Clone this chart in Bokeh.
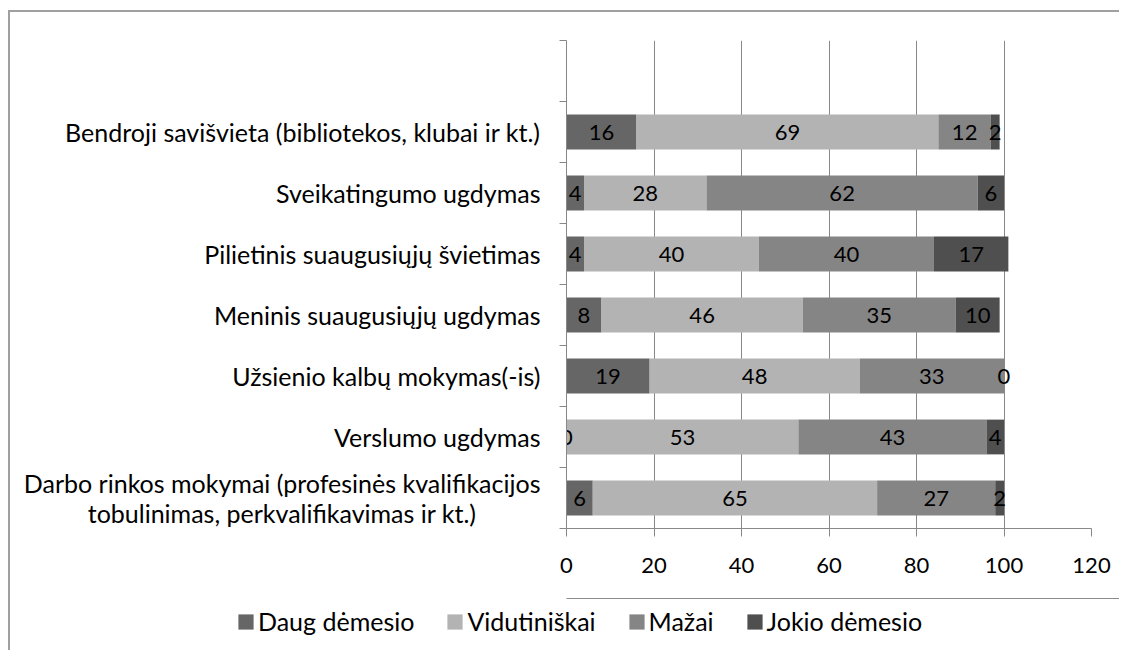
import numpy as np
from bokeh.plotting import figure
from bokeh.layouts import column
from bokeh.models import (FixedTicker, Legend, LegendItem, ColumnDataSource, Range1d)
from bokeh.core.properties import value
from bokeh.embed import file_html
from bokeh.resources import INLINE

# ---- data (bottom to top) ----
categories = [
    "Darbo rinkos mokymai (profesinės kvalifikacijos\ntobulinimas, perkvalifikavimas ir kt.)" + "\u00a0" * 10,
    "Verslumo ugdymas",
    "Užsienio kalbų mokymas(-is)",
    "Meninis suaugusiųjų ugdymas",
    "Pilietinis suaugusiųjų švietimas",
    "Sveikatingumo ugdymas",
    "Bendroji savišvieta (bibliotekos, klubai ir kt.)",
]
series_names = ["Daug dėmesio", "Vidutiniškai", "Mažai", "Jokio dėmesio"]
daug = [6, 0, 19, 8, 4, 4, 16]
vidutiniskai = [65, 53, 48, 46, 40, 28, 69]
mazai = [27, 43, 33, 35, 40, 62, 12]
jokio = [2, 4, 0, 10, 17, 6, 2]
x_ticks = [0, 20, 40, 60, 80, 100, 120]

colors = ["#666666", "#b3b3b3", "#858585", "#4f4f4f"]
FONT = "Lato"

series = [daug, vidutiniskai, mazai, jokio]
n_cat = len(categories)
n_slots = n_cat + 1  # one empty slot on top
ypos = np.arange(n_cat) + 0.5

p = figure(frame_width=525, frame_height=488, output_backend="svg", toolbar_location=None,
           x_range=Range1d(0, 120), y_range=Range1d(0, n_slots),
           min_border_left=556, min_border_right=28, min_border_top=28,
           min_border_bottom=70)
p.outline_line_color = None
p.background_fill_color = "white"
p.border_fill_color = "white"

# legend strip below the chart (its bars lie outside its visible range)
p2 = figure(frame_width=1109, frame_height=52, output_backend="svg", toolbar_location=None,
            x_axis_location=None, y_axis_location=None, min_border=0,
            x_range=Range1d(0, 1), y_range=Range1d(-2, -1))
p2.outline_line_color = None
p2.xgrid.grid_line_color = None
p2.ygrid.grid_line_color = None

left = np.zeros(n_cat)
sources = []
items = []
for name, vals, col in zip(series_names, series, colors):
    vals = np.array(vals, dtype=float)
    right = left + vals
    src = ColumnDataSource(dict(y=ypos, left=left.copy(), right=right.copy(),
                                xm=(left + right) / 2, lab=[str(int(v)) for v in vals]))
    sources.append(src)
    p.hbar(y="y", left="left", right="right", height=0.57, source=src,
           fill_color=col, line_color=None)
    r2 = p2.hbar(y="y", left="left", right="right", height=0.57, source=src,
                 fill_color=col, line_color=None)
    items.append(LegendItem(label=name, renderers=[r2]))
    left = right

for src in sources:
    p.text(x="xm", y="y", text="lab", source=src, text_align="center",
           text_baseline="middle", text_font=value(FONT), text_font_size="22px",
           text_color="#000000")

# x axis
p.xaxis.ticker = FixedTicker(ticks=x_ticks)
p.xaxis.axis_line_color = "#888888"
p.xaxis.major_tick_line_color = "#888888"
p.xaxis.major_tick_out = 8
p.xaxis.major_tick_in = 0
p.xaxis.minor_tick_line_color = None
p.xaxis.major_label_text_font = FONT
p.xaxis.major_label_text_font_size = "22px"
p.xaxis.major_label_text_color = "#000000"
p.xaxis.major_label_standoff = 21

# y axis
p.yaxis.ticker = FixedTicker(ticks=list(ypos), minor_ticks=list(range(n_slots + 1)))
p.yaxis.major_label_overrides = {float(y): c for y, c in zip(ypos, categories)}
p.yaxis.axis_line_color = "#888888"
p.yaxis.major_tick_line_color = None
p.yaxis.major_tick_out = 7
p.yaxis.minor_tick_line_color = "#888888"
p.yaxis.minor_tick_out = 7
p.yaxis.minor_tick_in = 0
p.yaxis.major_label_text_font = FONT
p.yaxis.major_label_text_font_size = "25px"
p.yaxis.major_label_text_line_height = 1.0
p.yaxis.major_label_text_color = "#000000"
p.yaxis.major_label_standoff = 19

# grids
p.xgrid.ticker = FixedTicker(ticks=x_ticks)
p.xgrid.grid_line_color = "#888888"
p.xgrid.grid_line_width = 1
p.ygrid.grid_line_color = None

legend = Legend(items=items, orientation="horizontal", location=(226, 14),
                label_text_font=FONT, label_text_font_size="25px",
                label_text_color="#000000", glyph_width=19, glyph_height=19,
                label_standoff=3, spacing=31, border_line_color=None,
                background_fill_alpha=0, margin=0, padding=0)
p2.add_layout(legend, "center")

layout = column(p, p2, spacing=0)
layout.margin = (10, 0, 0, 8)
layout.styles = {"border-top": "2px solid #a0a0a0", "border-left": "2px solid #a0a0a0"}

open("out.html", "w").write(file_html(layout, INLINE))
